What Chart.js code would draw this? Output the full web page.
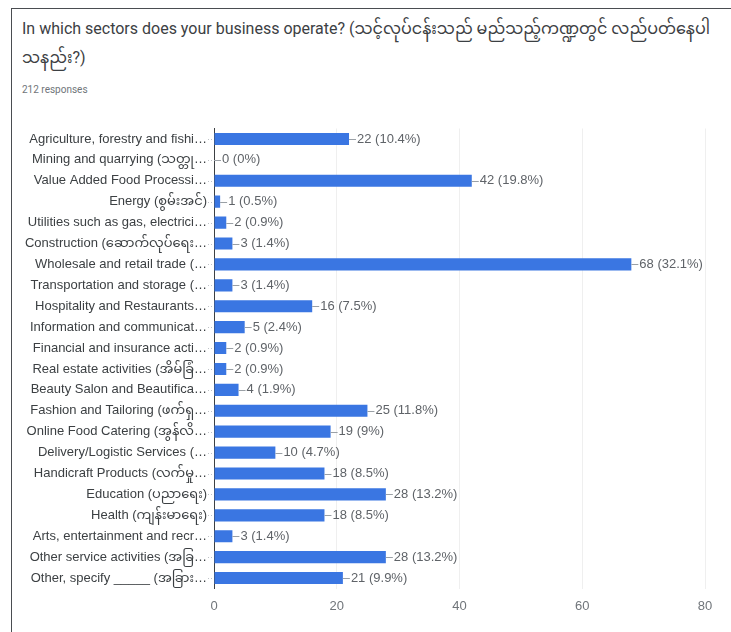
<!DOCTYPE html>
<html>
<head>
<meta charset="utf-8">
<script src="https://cdn.jsdelivr.net/npm/chart.js@4"></script>
<style>
  body { margin: 0; background: #fff; font-family: Roboto, Arial, "Noto Sans Myanmar", Padauk, sans-serif; }
  #card { position: absolute; left: 11px; top: 8px; width: 740px; height: 640px;
          border-left: 1px solid #4a4d51; border-top: 1px solid #4a4d51; }
  #title { position: absolute; left: 22px; top: 14px; font-size: 16px; color: #3c4043; line-height: 29px; white-space: nowrap; }
  #sub { position: absolute; left: 22px; top: 84px; font-size: 10px; color: #70757a; }
  #wrap { position: absolute; left: 12px; top: 110px; }
</style>
</head>
<body>
<div id="card"></div>
<div id="title">In which sectors does your business operate? (သင့်လုပ်ငန်းသည် မည်သည့်ကဏ္ဍတွင် လည်ပတ်နေပါ<br>သနည်း?)</div>
<div id="sub">212 responses</div>
<div id="wrap"><canvas id="chart" width="719" height="522"></canvas></div>
<script>
var sectors = [
  "Agriculture, forestry and fishi…",
  "Mining and quarrying (သတ္တု…",
  "Value Added Food Processi…",
  "Energy (စွမ်းအင်)",
  "Utilities such as gas, electrici…",
  "Construction (ဆောက်လုပ်ရေး…",
  "Wholesale and retail trade (…",
  "Transportation and storage (…",
  "Hospitality and Restaurants…",
  "Information and communicat…",
  "Financial and insurance acti…",
  "Real estate activities (အိမ်ခြံ…",
  "Beauty Salon and Beautifica…",
  "Fashion and Tailoring (ဖက်ရှ…",
  "Online Food Catering (အွန်လိ…",
  "Delivery/Logistic Services (…",
  "Handicraft Products (လက်မှု…",
  "Education (ပညာရေး)",
  "Health (ကျန်းမာရေး)",
  "Arts, entertainment and recr…",
  "Other service activities (အခြ…",
  "Other, specify _____ (အခြား…"
];
var responses = [22, 0, 42, 1, 2, 3, 68, 3, 16, 5, 2, 2, 4, 25, 19, 10, 18, 28, 18, 3, 28, 21];
var percents = ["10.4%", "0%", "19.8%", "0.5%", "0.9%", "1.4%", "32.1%", "1.4%", "7.5%", "2.4%", "0.9%",
                "0.9%", "1.9%", "11.8%", "9%", "4.7%", "8.5%", "13.2%", "8.5%", "1.4%", "13.2%", "9.9%"];
var xTicks = [0, 20, 40, 60, 80];

// value labels with a short leader, plus dotted leaders next to the category labels
var barLabels = {
  id: 'barLabels',
  afterDatasetsDraw: function(chart) {
    var ctx = chart.ctx;
    var meta = chart.getDatasetMeta(0);
    var yScale = chart.scales.y;
    ctx.save();
    meta.data.forEach(function(bar, i) {
      ctx.strokeStyle = '#9aa0a6';
      ctx.lineWidth = 1;
      ctx.setLineDash([]);
      ctx.beginPath();
      ctx.moveTo(bar.x, Math.round(bar.y) + 0.5);
      ctx.lineTo(bar.x + 7, Math.round(bar.y) + 0.5);
      ctx.stroke();
      ctx.fillStyle = '#5f6368';
      ctx.font = '13px "Liberation Sans", Arial, sans-serif';
      ctx.textAlign = 'left';
      ctx.textBaseline = 'middle';
      ctx.fillText(responses[i] + ' (' + percents[i] + ')', bar.x + 8, bar.y);

      ctx.strokeStyle = '#bdc1c6';
      ctx.setLineDash([1, 2]);
      ctx.beginPath();
      ctx.moveTo(yScale.right - 6, Math.round(bar.y) + 0.5);
      ctx.lineTo(yScale.right, Math.round(bar.y) + 0.5);
      ctx.stroke();
    });
    ctx.restore();
  }
};

new Chart(document.getElementById('chart'), {
  type: 'bar',
  data: {
    labels: sectors,
    datasets: [{
      data: responses,
      backgroundColor: '#3a76e2',
      barPercentage: 0.58,
      categoryPercentage: 1
    }]
  },
  options: {
    indexAxis: 'y',
    responsive: false,
    animation: false,
    layout: { padding: { top: 18.5, right: 26, left: 0, bottom: 0 } },
    plugins: { legend: { display: false }, tooltip: { enabled: false } },
    scales: {
      x: {
        min: 0, max: 80,
        afterBuildTicks: function(scale) { scale.ticks = xTicks.map(function(v) { return { value: v }; }); },
        afterFit: function(scale) { scale.height = 43.5; },
        grid: { color: '#efefef', drawTicks: false },
        border: { display: false },
        ticks: { color: '#70757a', padding: 10, font: { size: 13, family: '"Liberation Sans", Arial' } }
      },
      y: {
        afterFit: function(scale) { scale.width = 202; },
        grid: { display: false, drawTicks: false },
        border: { display: true, color: '#3c4043' },
        ticks: { color: '#3c4043', padding: 7, autoSkip: false,
                 font: { size: 13, family: '"Liberation Sans", Arial, "Noto Sans Myanmar", Padauk' } }
      }
    }
  },
  plugins: [barLabels]
});
</script>
</body>
</html>
